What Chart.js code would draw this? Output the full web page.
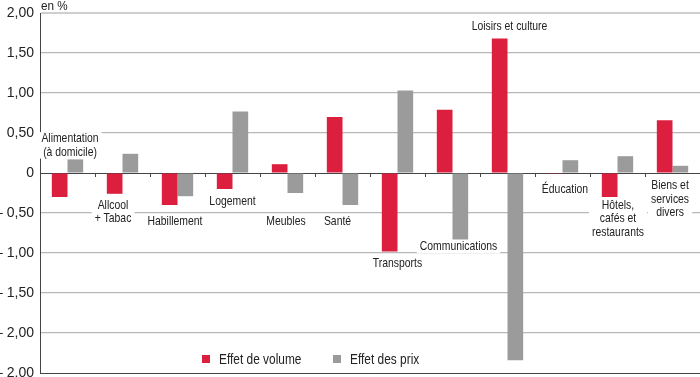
<!DOCTYPE html>
<html>
<head>
<meta charset="utf-8">
<script src="https://cdn.jsdelivr.net/npm/chart.js@4/dist/chart.umd.min.js"></script>
<style>
  html, body { margin: 0; padding: 0; background: #fff; }
  #wrap { width: 700px; height: 377px; position: relative; }
</style>
</head>
<body>
<div id="wrap"><canvas id="chart"></canvas></div>
<script>
const categories = [
  ['Alimentation', '(à domicile)'], ['Allcool', '+ Tabac'], ['Habillement'], ['Logement'],
  ['Meubles'], ['Santé'], ['Transports'], ['Communications'], ['Loisirs et culture'],
  ['Éducation'], ['Hôtels,', 'cafés et', 'restaurants'], ['Biens et', 'services', 'divers']
]
const effetVolume = [-0.30, -0.26, -0.40, -0.20, 0.11, 0.70, -0.98, 0.79, 1.68, -0.01, -0.30, 0.66]
const effetPrix = [0.17, 0.24, -0.29, 0.77, -0.25, -0.40, 1.03, -0.83, -2.34, 0.16, 0.21, 0.09]
const tickValues = [-2.5, -2, -1.5, -1, -0.5, 0, 0.5, 1, 1.5, 2]
const tickLabels = ['– 2,00', '– 2,00', '– 1,50', '– 1,00', '– 0,50', '0', '0,50', '1,00', '1,50', '2,00']
const seriesNames = ['Effet de volume', 'Effet des prix']

// where each category name sits: [x shift in px from the category centre, y value of the first line]
const labelPos = [
  [2.5, 0.43], [-9.5, -0.40], [-2.5, -0.61], [0, -0.36], [-1.5, -0.61], [-5, -0.61],
  [0, -1.13], [6, -0.92], [2, 1.83], [2.5, -0.20], [0.5, -0.40], [-2.5, -0.16]
]

const RED = '#dc1e3f'
const GREY = '#9b9b9b'
const FONT = '"Liberation Sans", Arial, sans-serif'
const SQUEEZE = 0.8  // the original uses a condensed face

function narrowText(ctx, txt, x, y, k) {
  ctx.save()
  ctx.translate(x, y)
  ctx.scale(k, 1)
  ctx.fillText(txt, 0, 0)
  ctx.restore()
}

const annotations = {
  id: 'annotations',
  beforeDatasetsDraw(chart) {
    const { ctx, scales } = chart
    const x = scales.x, y = scales.y
    const y0 = y.getPixelForValue(0)
    ctx.save()
    // small ticks on the zero line between categories
    ctx.strokeStyle = '#444'
    ctx.lineWidth = 1
    for (let i = 0; i < categories.length - 1; i++) {
      const px = Math.round((x.getPixelForValue(i) + x.getPixelForValue(i + 1)) / 2) + 0.5
      ctx.beginPath()
      ctx.moveTo(px, y0)
      ctx.lineTo(px, y0 + 4)
      ctx.stroke()
    }
    ctx.restore()
  },
  afterDatasetsDraw(chart) {
    const { ctx, chartArea, scales } = chart
    const x = scales.x, y = scales.y
    ctx.save()
    ctx.font = '13px ' + FONT
    ctx.textAlign = 'center'
    ctx.textBaseline = 'middle'
    categories.forEach((lines, i) => {
      const cx = x.getPixelForValue(i) + labelPos[i][0]
      const cy = y.getPixelForValue(labelPos[i][1])
      const lh = 13.5
      let w = 0
      lines.forEach(l => { w = Math.max(w, ctx.measureText(l).width * SQUEEZE) })
      ctx.fillStyle = '#fff'
      ctx.fillRect(cx - w / 2 - 3, cy - 6.5, w + 6, lh * (lines.length - 1) + 13)
      ctx.fillStyle = '#222'
      lines.forEach((l, k) => narrowText(ctx, l, cx, cy + k * lh, SQUEEZE))
    })

    // legend inside the plot
    ctx.font = '14px ' + FONT
    ctx.textAlign = 'left'
    const ly = 359
    const items = [[202, RED, seriesNames[0]], [333, GREY, seriesNames[1]]]
    items.forEach(([lx, col, txt]) => {
      ctx.fillStyle = col
      ctx.fillRect(lx, ly - 4, 8, 8)
      ctx.fillStyle = '#222'
      narrowText(ctx, txt, lx + 17, ly + 1, 0.85)
    })

    // unit
    ctx.font = '13px ' + FONT
    narrowText(ctx, 'en %', chartArea.left + 1, 6, 0.9)
    ctx.restore()
  }
}

new Chart(document.getElementById('chart'), {
  type: 'bar',
  plugins: [annotations],
  data: {
    labels: categories.map(c => c.join(' ')),
    datasets: [
      { label: seriesNames[0], data: effetVolume, backgroundColor: RED },
      { label: seriesNames[1], data: effetPrix, backgroundColor: GREY }
    ]
  },
  options: {
    responsive: true,
    maintainAspectRatio: false,
    animation: false,
    layout: { padding: { left: 0, top: 13, right: 0, bottom: 4 } },
    datasets: { bar: { categoryPercentage: 0.57, barPercentage: 1 } },
    plugins: { legend: { display: false }, tooltip: { enabled: false } },
    scales: {
      x: {
        afterFit: (scale) => { scale.height = 0; scale.paddingLeft = 0; scale.paddingRight = 0 },
        ticks: { display: false },
        grid: { display: false },
        border: { display: true, color: '#444', width: 1 }
      },
      y: {
        min: -2.5,
        max: 2,
        afterBuildTicks: (scale) => { scale.ticks = tickValues.map(v => ({ value: v })) },
        afterFit: (scale) => { scale.width = 40; scale.paddingTop = 0; scale.paddingBottom = 0 },
        ticks: {
          padding: 6,
          color: '#222',
          font: { family: FONT, size: 14 },
          callback: (v) => tickLabels[tickValues.indexOf(v)]
        },
        grid: {
          drawTicks: false,
          color: (c) => {
            const v = c.tick ? c.tick.value : null
            if (v === 0 || v === -2.5) return '#444'
            if (v === 2) return '#cfcfcf'
            return '#b8b8b8'
          },
          lineWidth: (c) => {
            const v = c.tick ? c.tick.value : null
            if (v === 2) return 2
            if (v === 0 || v === -2.5) return 1
            return 1.3
          }
        },
        border: { display: true, color: '#444', width: 1 }
      }
    }
  }
})
</script>
</body>
</html>
